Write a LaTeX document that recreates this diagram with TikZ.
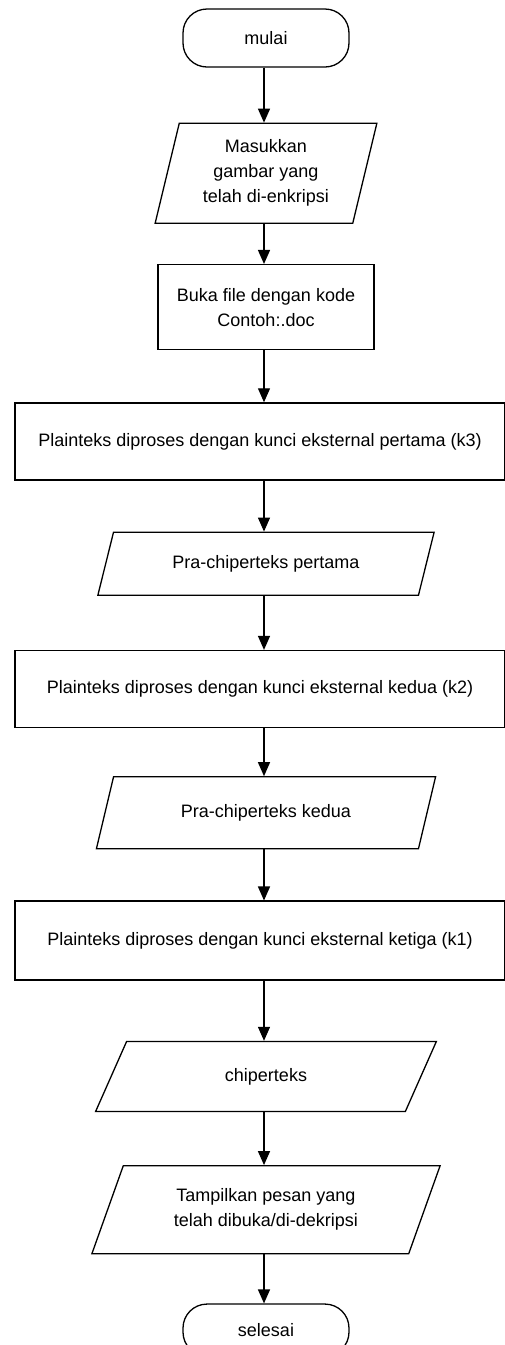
\documentclass[tikz,border=0pt]{standalone}
\usepackage{fontspec}
\setmainfont{Liberation Sans}
\usetikzlibrary{shapes.geometric, arrows.meta, positioning}

\begin{document}
\begin{tikzpicture}[
  x=1pt, y=1pt,
  node distance=50pt,
  base/.style={draw=black, line width=1.3pt, align=center,
               font=\fontsize{18}{25}\selectfont, inner sep=4pt},
  termbox/.style={base, rectangle, rounded corners=24pt,
                  minimum width=166pt, minimum height=58pt},
  procbox/.style={base, rectangle, minimum height=77pt},
  widebox/.style={procbox, minimum width=490pt, xshift=-6pt},
  iobox/.style={base, trapezium, trapezium left angle=68,
                trapezium right angle=112, trapezium stretches=true},
  arrow/.style={-{Triangle[length=14pt, width=12pt]}, line width=1.3pt}
]
\useasboundingbox (0,0) rectangle (504,-1345);
\coordinate (col) at (264,0);

\node[termbox] (mulai) at (266,-38) {mulai};
\node[iobox, minimum width=222pt, minimum height=100pt, below=55pt of mulai,
      trapezium left angle=76, trapezium right angle=104] (masuk)
  {Masukkan\\ gambar yang\\ telah di-enkripsi};
\node[procbox, minimum width=216pt, minimum height=85pt, below=40pt of masuk] (buka)
  {Buka file dengan kode\\ Contoh:.doc};
\node[widebox, below=52pt of buka] (k3)
  {Plainteks diproses dengan kunci eksternal pertama (k3)};
\node[iobox, minimum width=337pt, minimum height=63pt, below=51pt of k3, xshift=6pt] (pra1)
  {Pra-chiperteks pertama};
\node[widebox, below=54pt of pra1] (k2)
  {Plainteks diproses dengan kunci eksternal kedua (k2)};
\node[iobox, minimum width=340pt, minimum height=72pt, below=48pt of k2, xshift=6pt] (pra2)
  {Pra-chiperteks kedua};
\node[widebox, minimum height=79pt, below=51pt of pra2] (k1)
  {Plainteks diproses dengan kunci eksternal ketiga (k1)};
\node[iobox, minimum width=341pt, minimum height=70pt, below=60pt of k1, xshift=6pt] (chip)
  {chiperteks};
\node[iobox, minimum width=349pt, minimum height=88pt, below=53pt of chip,
      trapezium left angle=67, trapezium right angle=113] (tampil)
  {Tampilkan pesan yang\\ telah dibuka/di-dekripsi};
\node[termbox, minimum height=52pt, below=49pt of tampil] (selesai) {selesai};

\draw[arrow] (mulai.south -| col) -- (masuk.north -| col);
\draw[arrow] (masuk.south -| col) -- (buka.north -| col);
\draw[arrow] (buka.south -| col) -- (k3.north -| col);
\draw[arrow] (k3.south -| col) -- (pra1.north -| col);
\draw[arrow] (pra1.south -| col) -- (k2.north -| col);
\draw[arrow] (k2.south -| col) -- (pra2.north -| col);
\draw[arrow] (pra2.south -| col) -- (k1.north -| col);
\draw[arrow] (k1.south -| col) -- (chip.north -| col);
\draw[arrow] (chip.south -| col) -- (tampil.north -| col);
\draw[arrow] (tampil.south -| col) -- (selesai.north -| col);
\end{tikzpicture}
\end{document}
